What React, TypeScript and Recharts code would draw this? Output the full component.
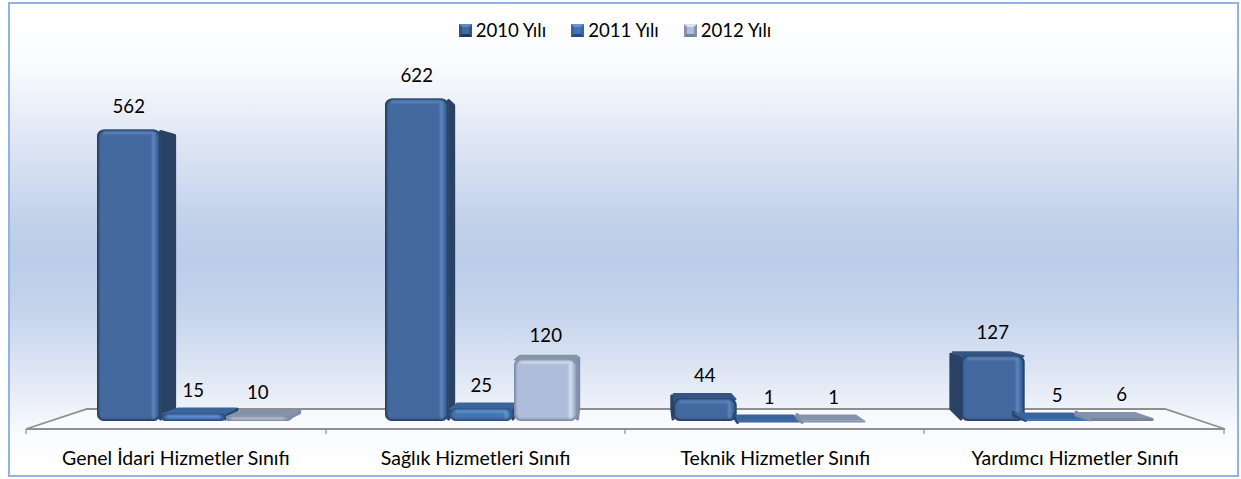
import { Bar, BarChart, LabelList, Legend, XAxis, YAxis } from "recharts";

const categories = [
  "Genel İdari Hizmetler Sınıfı",
  "Sağlık Hizmetleri Sınıfı",
  "Teknik Hizmetler Sınıfı",
  "Yardımcı Hizmetler Sınıfı",
];
const values2010 = [562, 622, 44, 127];
const values2011 = [15, 25, 1, 5];
const values2012 = [10, 120, 1, 6];

const data = categories.map((label, i) => ({
  label,
  y2010: values2010[i],
  y2011: values2011[i],
  y2012: values2012[i],
}));

type Tone = { front: string; top: string; side: string; glow: string; shade: string };

const tones: Record<string, Tone> = {
  y2010: { front: "#43699e", top: "#345583", side: "#2a4364", glow: "#5c89c0", shade: "#23395a" },
  y2011: { front: "#4474b0", top: "#3a659c", side: "#2a4769", glow: "#6396d2", shade: "#2a4a76" },
  y2012: { front: "#adbdda", top: "#8492ab", side: "#7e8ca6", glow: "#d8e1f0", shade: "#76839a" },
};

const FONT = "Lato, sans-serif";
const FONT_SIZE = 18.6;
const AXIS_FONT_SIZE = 19.5;
const MARGIN = { top: 38, left: 26, right: 16, bottom: 0 };
const VANISH_X = 625;

function Bar3D(props: any) {
  const { x, y, width, height, tone } = props as {
    x: number;
    y: number;
    width: number;
    height: number;
    tone: Tone;
  };
  const bottom = y + height;
  const sx = (VANISH_X - (x + width / 2)) * 0.031;
  const lift = -6 + 9 * (height / 292);
  const backW = width * 0.96;
  const bx = x + (width - backW) / 2 + sx;
  const by = y + lift;
  const nearX = sx > 0 ? x + width : x;
  const farX = sx > 0 ? bx + backW : bx;
  const backBottom = Math.max(409, by);
  const r = Math.min(7, Math.max(height / 2, 0.5));
  const clipId = `bar-${Math.round(x)}`;

  return (
    <g>
      <polygon
        points={`${nearX},${y + 2} ${farX},${by + 3} ${farX},${backBottom} ${nearX},${bottom - 2}`}
        fill={tone.side}
        stroke={tone.side}
        strokeWidth={3}
        strokeLinejoin="round"
      />
      {lift < 0 && (
        <polygon
          points={`${x + 1},${y + 1} ${bx + 2},${by + 1} ${bx + backW - 2},${by + 1} ${x + width - 1},${y + 1}`}
          fill={tone.top}
          stroke={tone.top}
          strokeWidth={2}
          strokeLinejoin="round"
        />
      )}
      <rect x={x} y={y} width={width} height={height} rx={r} fill={tone.front} />
      {height > 3 && (
        <g>
          <clipPath id={clipId}>
            <rect x={x} y={y} width={width} height={height} rx={r} />
          </clipPath>
          <g clipPath={`url(#${clipId})`} filter="url(#bevelBlur)">
            <line x1={x + 6} x2={x + width - 6} y1={y + 3} y2={y + 3} stroke={tone.glow} strokeWidth={3} />
            <line x1={x + width - 7} x2={x + width - 7} y1={y + 3} y2={bottom - 3} stroke={tone.glow} strokeWidth={3} />
            <rect x={x} y={y} width={width} height={height} rx={r} fill="none" stroke={tone.shade} strokeWidth={3.5} />
          </g>
        </g>
      )}
    </g>
  );
}

function Floor() {
  const frontY = 429;
  const backY = 409;
  const ticks = [26, 326, 625, 924, 1224];
  return (
    <g>
      <defs>
        <filter id="bevelBlur" x="-10%" y="-10%" width="120%" height="120%">
          <feGaussianBlur stdDeviation="1.3" />
        </filter>
      </defs>
      <polygon points={`87,${backY} 1165,${backY} 1225,${frontY} 26,${frontY}`} fill="#fafbfe" opacity={0.75} />
      <polyline
        points={`26,${frontY} 87,${backY} 1165,${backY} 1225,${frontY} 26,${frontY}`}
        fill="none"
        stroke="#8f8f8f"
        strokeWidth={1.8}
      />
      {ticks.map((t) => (
        <line key={t} x1={t} x2={t} y1={frontY} y2={frontY + 5} stroke="#8f8f8f" strokeWidth={1.2} />
      ))}
    </g>
  );
}

function LegendRow({ payload }: any) {
  return (
    <div
      style={{
        display: "flex",
        justifyContent: "center",
        gap: 25,
        fontFamily: FONT,
        fontSize: FONT_SIZE,
        color: "#000",
        lineHeight: "20px",
      }}
    >
      {(payload ?? []).map((entry: any) => {
        const tone = tones[entry.dataKey as string];
        return (
          <span key={entry.value} style={{ display: "flex", alignItems: "center", gap: 4 }}>
            <span
              style={{
                width: 13,
                height: 13,
                boxSizing: "border-box",
                background: tone.front,
                borderStyle: "solid",
                borderWidth: 3,
                borderColor: `${tone.glow} ${tone.top} ${tone.shade} ${tone.top}`,
              }}
            />
            {entry.value}
          </span>
        );
      })}
    </div>
  );
}

export default function App() {
  return (
    <div
      style={{
        position: "absolute",
        left: 8,
        top: 2,
        width: 1231,
        height: 475,
        boxSizing: "border-box",
        border: "2px solid #8db4e3",
        background:
          "linear-gradient(180deg, #ffffff 0%, #fbfcfe 12%, #e4eaf6 26%, #c2d1ea 46%, #bccde9 54%, #c6d4ec 66%, #e6ecf7 82%, #fbfcfe 92%, #ffffff 100%)",
      }}
    >
      <div style={{ position: "absolute", left: -10, top: -4 }}>
        <BarChart
          width={1241}
          height={479}
          data={data}
          margin={MARGIN}
          barSize={63.5}
          barGap={1}
          style={{ fontFamily: FONT }}
        >
          <Floor />
          <XAxis xAxisId="bars" dataKey="label" hide height={0} padding={{ left: 23, right: 24 }} />
          <XAxis
            xAxisId="labels"
            dataKey="label"
            height={58}
            interval={0}
            axisLine={false}
            tickLine={false}
            tickMargin={24}
            tick={{ fill: "#000", fontSize: AXIS_FONT_SIZE, fontFamily: FONT }}
          />
          <YAxis hide domain={[0, 700]} />
          <Legend
            content={<LegendRow />}
            verticalAlign="top"
            wrapperStyle={{ position: "absolute", top: 20, left: 0, width: 1230 }}
          />
          {Object.keys(tones).map((key) => (
            <Bar
              key={key}
              xAxisId="bars"
              dataKey={key}
              name={`${key.slice(1)} Yılı`}
              fill={tones[key].front}
              isAnimationActive={false}
              shape={(p: any) => <Bar3D {...p} tone={tones[key]} />}
            >
              <LabelList
                dataKey={key}
                position="top"
                offset={16.5}
                style={{ fill: "#000", fontSize: FONT_SIZE, fontFamily: FONT }}
              />
            </Bar>
          ))}
        </BarChart>
      </div>
    </div>
  );
}
